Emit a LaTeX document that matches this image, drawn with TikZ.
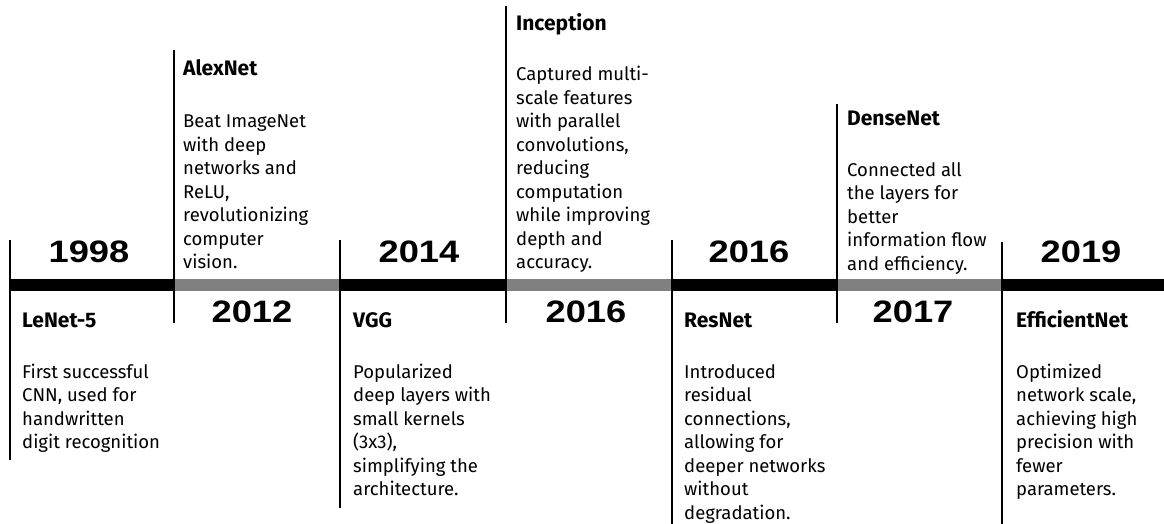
\documentclass[tikz,border=0pt]{standalone}
\usepackage{fontspec}
\setmainfont{Fira Sans}
\newfontfamily\yearfont{Liberation Sans}
\newcommand{\lines}[1]{\begin{tabular}[t]{@{}l@{}}#1\end{tabular}}
\begin{document}
\begin{tikzpicture}[x=1pt,y=-1pt,
  yearlbl/.style={anchor=base, inner sep=0pt,
    font=\yearfont\bfseries\fontsize{31}{31}\selectfont},
  ttl/.style={anchor=base west, inner sep=0pt,
    font=\bfseries\fontsize{21}{23.5}\selectfont},
  desc/.style={anchor=base west, inner sep=0pt,
    font=\fontsize{18.5}{23.5}\selectfont},
  tick/.style={line width=1.5pt, black},
  darkseg/.style={line width=12pt, black},
  lightseg/.style={line width=12pt, black!50}]
\useasboundingbox (0,0) rectangle (1164,524);

% points along the time axis
\coordinate (p0) at (10,284.5);
\coordinate (p1) at (174,284.5);
\coordinate (p2) at (340,284.5);
\coordinate (p3) at (506,284.5);
\coordinate (p4) at (672,284.5);
\coordinate (p5) at (837,284.5);
\coordinate (p6) at (1002,284.5);
\coordinate (p7) at (1164,284.5);

% axis segments
\draw[darkseg]  (p0) -- (p1);
\draw[lightseg] (p1) -- (p2);
\draw[darkseg]  (p2) -- (p3);
\draw[lightseg] (p3) -- (p4);
\draw[darkseg]  (p4) -- (p5);
\draw[lightseg] (p5) -- (p6);
\draw[darkseg]  (p6) -- (p7);

% tick ends
\coordinate (t0a) at (10,240);   \coordinate (t0b) at (10,460);
\coordinate (t1a) at (174,50);   \coordinate (t1b) at (174,323);
\coordinate (t2a) at (340,240);  \coordinate (t2b) at (340,508);
\coordinate (t3a) at (506,6);    \coordinate (t3b) at (506,323);
\coordinate (t4a) at (672,240);  \coordinate (t4b) at (672,524);
\coordinate (t5a) at (837,104);  \coordinate (t5b) at (837,323);
\coordinate (t6a) at (1002,242); \coordinate (t6b) at (1002,524);
\foreach \i in {0,...,6} \draw[tick] (t\i a) -- (t\i b);

% years
\node[yearlbl] (y1998) at (89,262)   {\scalebox{1.17}[1]{1998}};
\node[yearlbl] (y2012) at (252,322)  {\scalebox{1.17}[1]{2012}};
\node[yearlbl] (y2014) at (419,262)  {\scalebox{1.17}[1]{2014}};
\node[yearlbl] (y2016a) at (586,322) {\scalebox{1.17}[1]{2016}};
\node[yearlbl] (y2016b) at (749,262) {\scalebox{1.17}[1]{2016}};
\node[yearlbl] (y2017) at (913,322)  {\scalebox{1.17}[1]{2017}};
\node[yearlbl] (y2019) at (1081,262) {\scalebox{1.17}[1]{2019}};

% milestones above the axis
\node[ttl]  (alex)  at (183,76)  {AlexNet};
\node[desc] (alexd) at (183,128) {\lines{Beat ImageNet\\with deep\\networks and\\ReLU,\\revolutionizing\\computer\\vision.}};

\node[ttl]  (incep)  at (516,31)  {Inception};
\node[desc] (incepd) at (516,81)  {\lines{Captured multi-\\scale features\\with parallel\\convolutions,\\reducing\\computation\\while improving\\depth and\\accuracy.}};

\node[ttl]  (dense)  at (847,125)  {DenseNet};
\node[desc] (densed) at (847,176)  {\lines{Connected all\\the layers for\\better\\information flow\\and efficiency.}};

% milestones below the axis
\node[ttl]  (lenet)  at (22,327)  {LeNet-5};
\node[desc] (lenetd) at (22,378)  {\lines{First successful\\CNN, used for\\handwritten\\digit recognition}};

\node[ttl]  (vgg)  at (353,327)  {VGG};
\node[desc] (vggd) at (353,378)  {\lines{Popularized\\deep layers with\\small kernels\\(3x3),\\simplifying the\\architecture.}};

\node[ttl]  (res)  at (684,327)  {ResNet};
\node[desc] (resd) at (684,378)  {\lines{Introduced\\residual\\connections,\\allowing for\\deeper networks\\without\\degradation.}};

\node[ttl]  (eff)  at (1016,327)  {EfficientNet};
\node[desc] (effd) at (1016,378)  {\lines{Optimized\\network scale,\\achieving high\\precision with\\fewer\\parameters.}};
\end{tikzpicture}
\end{document}
